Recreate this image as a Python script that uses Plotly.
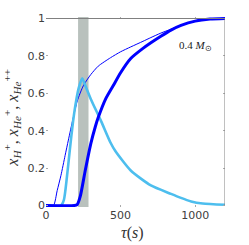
import plotly.graph_objects as go

# time axis (s)
t_thin = [0, 50, 75, 100, 128, 150, 180, 210, 250, 300, 350, 432, 500, 568, 650, 703, 770, 838, 905, 1000, 1100, 1200]
x_thin = [0, 0, 0.08, 0.16, 0.267, 0.35, 0.46, 0.56, 0.64, 0.70, 0.745, 0.79, 0.822, 0.848, 0.878, 0.898, 0.922, 0.943, 0.963, 0.985, 0.997, 1.0]

t_light = [0, 100, 120, 140, 160, 180, 200, 220, 243, 264, 300, 370, 432, 466, 568, 703, 838, 900, 973, 1050, 1200]
x_light = [0, 0, 0.03, 0.15, 0.30, 0.44, 0.55, 0.63, 0.68, 0.64, 0.57, 0.45, 0.337, 0.29, 0.187, 0.107, 0.062, 0.042, 0.022, 0.011, 0.004]

t_thick = [0, 190, 209, 230, 263, 300, 330, 350, 400, 450, 500, 568, 650, 703, 770, 838, 905, 1000, 1100, 1200]
x_thick = [0, 0, 0.005, 0.05, 0.187, 0.33, 0.42, 0.47, 0.57, 0.64, 0.71, 0.786, 0.84, 0.87, 0.905, 0.938, 0.963, 0.986, 0.997, 1.0]

band = [215, 285]
x_ticks = [0, 500, 1000]
y_ticks = [0, 0.2, 0.4, 0.6, 0.8, 1]
y_ticklabels = ["0", "0.2", "0.4", "0.6", "0.8", "1"]

fig = go.Figure()
fig.add_vrect(x0=band[0], x1=band[1], y0=0, y1=1, yref="y", fillcolor="#b9c1bd",
              opacity=1, line_width=0, layer="below")

fig.add_trace(go.Scatter(x=t_thin, y=x_thin, mode="lines", line=dict(color="#0000ff", width=1, shape="spline", smoothing=0.6)))
fig.add_trace(go.Scatter(x=t_light, y=x_light, mode="lines", line=dict(color="#4dbeee", width=2.6, shape="spline", smoothing=0.6)))
fig.add_trace(go.Scatter(x=t_thick, y=x_thick, mode="lines", line=dict(color="#0000ff", width=3, shape="spline", smoothing=0.6)))

# box lines (top and right)
fig.add_shape(type="line", x0=0, x1=1200, y0=1, y1=1, xref="x", yref="y", line=dict(color="#808080", width=1))
fig.add_shape(type="line", x0=1200, x1=1200, y0=0, y1=1, xref="x", yref="y", line=dict(color="#808080", width=1))

fig.update_layout(
    width=249, height=245,
    margin=dict(l=46, r=24, t=17, b=38),
    plot_bgcolor="white", paper_bgcolor="white",
    showlegend=False,
    font=dict(family="DejaVu Sans", size=11, color="#404040"),
)
fig.update_xaxes(range=[0, 1200], tickvals=x_ticks, ticks="inside", ticklen=2, tickcolor="#aaaaaa",
                 mirror="ticks", showline=False, showgrid=False, zeroline=False,
                 tickfont=dict(size=11, color="#404040"))
fig.update_yaxes(range=[-0.008, 1.008], tickvals=y_ticks, ticktext=y_ticklabels, ticks="inside", ticklen=2,
                 tickcolor="#aaaaaa", mirror="ticks", showline=False, showgrid=False, zeroline=False,
                 tickfont=dict(size=11, color="#404040"))

fig.add_annotation(text="<i>x</i><sub><i>H</i></sub><sup>+</sup>, <i>x</i><sub><i>He</i></sub><sup>+</sup>, <i>x</i><sub><i>He</i></sub><sup>++</sup>",
                   xref="paper", yref="paper", x=-0.19, y=0.47, textangle=-90, showarrow=False,
                   font=dict(family="Liberation Serif", size=16, color="#333333"),
                   xanchor="center", yanchor="middle")
fig.add_annotation(text="<i>τ</i>(<i>s</i>)", xref="paper", yref="paper", x=0.486, y=-0.137,
                   showarrow=False, font=dict(family="Liberation Serif", size=16, color="#333333"),
                   xanchor="center", yanchor="middle")
fig.add_annotation(text="0.4 <i>M</i><sub>⊙</sub>", xref="x", yref="y", x=1000, y=0.855,
                   showarrow=False, font=dict(family="Liberation Serif", size=11, color="#222222"),
                   xanchor="center", yanchor="middle")

fig.write_html("out.html", config={"displayModeBar": False},
               post_script="document.body.style.margin='0px';")
